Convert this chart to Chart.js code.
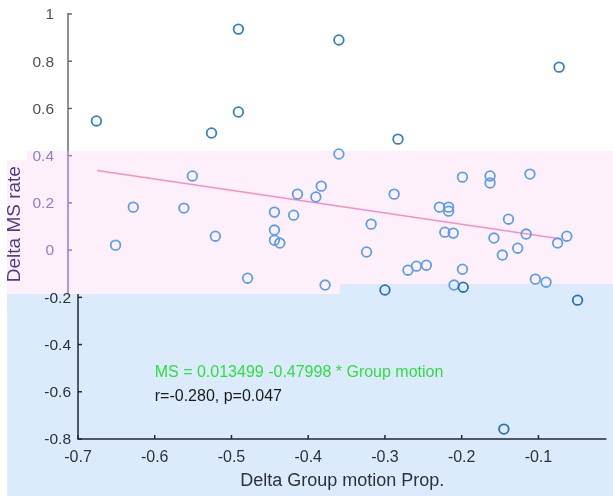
<!DOCTYPE html>
<html>
<head>
<meta charset="utf-8">
<script src="https://cdn.jsdelivr.net/npm/chart.js@4"></script>
<style>
body { margin: 0; background: #fff; }
canvas { display: block; }
</style>
</head>
<body>
<canvas id="msChart" width="613" height="496"></canvas>
<script>
// values
const groupMotion = [
  -0.676, -0.526, -0.491, -0.491, -0.360, -0.283, -0.073, -0.360,
  -0.551, -0.628, -0.562, -0.521, -0.651, -0.479,
  -0.414, -0.383, -0.390, -0.444, -0.419, -0.444, -0.444, -0.437,
  -0.288, -0.318, -0.324, -0.378, -0.300, -0.270, -0.259, -0.246,
  -0.199, -0.210, -0.198, -0.104, -0.090, -0.049, -0.145, -0.147, -0.127,
  -0.199, -0.163, -0.163, -0.111, -0.229, -0.217, -0.217, -0.139,
  -0.222, -0.211, -0.158, -0.116, -0.063, -0.075
];
const msRate = [
  0.547, 0.496, 0.936, 0.585, 0.890, 0.470, 0.775, 0.407,
  0.314, 0.182, 0.178, 0.059, 0.021, -0.119,
  0.237, 0.271, 0.225, 0.161, 0.148, 0.085, 0.042, 0.030,
  0.237, 0.110, -0.008, -0.148, -0.169, -0.085, -0.068, -0.064,
  -0.081, -0.148, -0.157, -0.123, -0.136, -0.212, -0.758, -0.021, 0.008,
  0.309, 0.314, 0.284, 0.322, 0.182, 0.182, 0.165, 0.131,
  0.076, 0.072, 0.051, 0.068, 0.059, 0.030
];

// regression line ends
const fitX = [-0.675, -0.070];
const fitY = [0.337, 0.047];

const xTicks = [-0.7, -0.6, -0.5, -0.4, -0.3, -0.2, -0.1];
const xTickLabels = ['-0.7', '-0.6', '-0.5', '-0.4', '-0.3', '-0.2', '-0.1'];
const yTicks = [1, 0.8, 0.6, 0.4, 0.2, 0, -0.2, -0.4, -0.6, -0.8];
const yTickLabels = ['1', '0.8', '0.6', '0.4', '0.2', '0', '-0.2', '-0.4', '-0.6', '-0.8'];

const xTitle = 'Delta Group motion Prop.';
const yTitle = 'Delta MS rate';
const fitText = 'MS = 0.013499 -0.47998 * Group motion';
const statText = 'r=-0.280, p=0.047';

const FONT = '"Liberation Sans", Arial, sans-serif';

const points = groupMotion.map((v, i) => ({ x: v, y: msRate[i] }));
const fitLine = fitX.map((v, i) => ({ x: v, y: fitY[i] }));

// shaded panels behind the plot (pink band + blue lower part)
const panels = {
  id: 'panels',
  beforeDatasetsDraw(chart) {
    const ctx = chart.ctx;
    const x = chart.scales.x, y = chart.scales.y;
    const top = y.getPixelForValue(0.42);
    const cutLeft = y.getPixelForValue(-0.186);
    const cutRight = y.getPixelForValue(-0.144);
    const step = x.getPixelForValue(-0.359);
    ctx.save();
    ctx.fillStyle = '#fdf0fb';
    ctx.fillRect(27, top, chart.width - 27, cutLeft - top);
    ctx.fillRect(7, top + 9, 20, cutLeft - top - 9);
    ctx.fillStyle = '#dcebfb';
    ctx.fillRect(7, cutLeft, chart.width - 7, chart.height - cutLeft);
    ctx.fillRect(step, cutRight, chart.width - step, cutLeft - cutRight);
    ctx.restore();
  }
};

// axes and text drawn by hand, positions from the chart scales
const axes = {
  id: 'axes',
  afterDatasetsDraw(chart) {
    const ctx = chart.ctx;
    const x = chart.scales.x, y = chart.scales.y;
    const area = chart.chartArea;
    const top = y.getPixelForValue(0.42);
    const cut = y.getPixelForValue(-0.186);
    const upperX = area.left - 10;

    ctx.save();
    ctx.lineWidth = 1.5;
    ctx.strokeStyle = '#6a6a6a';
    ctx.beginPath(); ctx.moveTo(upperX, area.top - 1); ctx.lineTo(upperX, top); ctx.stroke();
    ctx.strokeStyle = '#8c80d0';
    ctx.beginPath(); ctx.moveTo(upperX, top); ctx.lineTo(upperX, cut); ctx.stroke();
    ctx.strokeStyle = '#1e2a38';
    ctx.beginPath(); ctx.moveTo(area.left, cut); ctx.lineTo(area.left, area.bottom);
    ctx.lineTo(area.right, area.bottom); ctx.stroke();

    ctx.font = '15.5px ' + FONT;
    ctx.textBaseline = 'middle';
    ctx.textAlign = 'right';
    yTicks.forEach((v, i) => {
      const py = y.getPixelForValue(v);
      let ax = upperX, lx = upperX - 14, col = '#505050', tc = '#6a6a6a';
      if (v < 0.5 && v > -0.1) { col = '#8b82c6'; tc = '#8c80d0'; }
      if (v < -0.1) { ax = area.left; lx = area.left - 7; col = '#2b323c'; tc = '#1e2a38'; }
      ctx.strokeStyle = tc;
      ctx.beginPath(); ctx.moveTo(ax, py); ctx.lineTo(ax + 4, py); ctx.stroke();
      ctx.fillStyle = col;
      ctx.fillText(yTickLabels[i], lx, py + 1);
    });

    ctx.font = '16px ' + FONT;
    ctx.textAlign = 'center';
    ctx.fillStyle = '#2b323c';
    ctx.strokeStyle = '#1e2a38';
    xTicks.forEach((v, i) => {
      const px = x.getPixelForValue(v);
      ctx.beginPath(); ctx.moveTo(px, area.bottom); ctx.lineTo(px, area.bottom - 4); ctx.stroke();
      ctx.fillText(xTickLabels[i], px, area.bottom + 19);
    });

    ctx.font = '18px ' + FONT;
    ctx.fillText(xTitle, (area.left + area.right) / 2, area.bottom + 42);

    ctx.save();
    ctx.translate(15, y.getPixelForValue(0.11));
    ctx.rotate(-Math.PI / 2);
    ctx.font = '19px ' + FONT;
    ctx.fillStyle = '#4a3f85';
    ctx.fillText(yTitle, 0, 0);
    ctx.restore();

    ctx.font = '16px ' + FONT;
    ctx.textAlign = 'left';
    ctx.fillStyle = '#30dd40';
    ctx.fillText(fitText, x.getPixelForValue(-0.6), y.getPixelForValue(-0.517));
    ctx.fillStyle = '#1a1a1a';
    ctx.fillText(statText, x.getPixelForValue(-0.6), y.getPixelForValue(-0.619));
    ctx.restore();
  }
};

new Chart(document.getElementById('msChart'), {
  type: 'scatter',
  data: {
    datasets: [{
      label: 'MS',
      data: points,
      order: 1,
      pointRadius: 4.8,
      pointBorderWidth: 1.8,
      backgroundColor: 'rgba(0,0,0,0)',
      borderColor: (c) => {
        const v = c.raw ? c.raw.y : 0;
        if (v > 0.415) return '#3580c0';
        if (v < -0.152) return '#2a70b5';
        return '#5a9ef0';
      }
    }, {
      type: 'line',
      label: 'fit',
      data: fitLine,
      order: 2,
      borderColor: '#f78fbf',
      borderWidth: 1.5,
      pointRadius: 0,
      fill: false
    }]
  },
  options: {
    responsive: false,
    animation: false,
    devicePixelRatio: 1,
    layout: { padding: { left: 78, right: 0, top: 14, bottom: 57 } },
    plugins: { legend: { display: false }, tooltip: { enabled: false } },
    scales: {
      x: { type: 'linear', display: false, min: -0.7, max: -0.0114 },
      y: { type: 'linear', display: false, min: -0.8, max: 1 }
    }
  },
  plugins: [panels, axes]
});
</script>
</body>
</html>
